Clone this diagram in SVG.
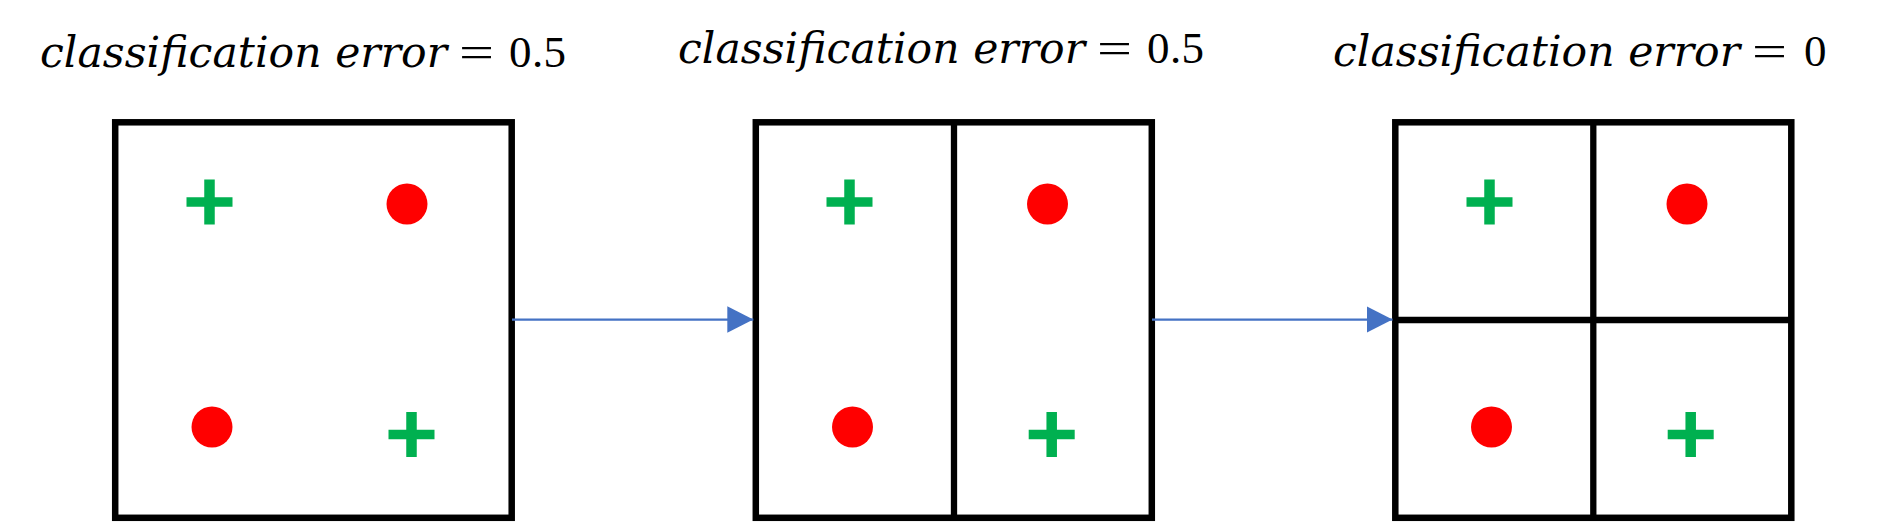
<svg xmlns="http://www.w3.org/2000/svg" xmlns:xlink="http://www.w3.org/1999/xlink" width="1892" height="522" viewBox="0 0 1892 522">
<style>
.box{fill:none;stroke:#000;stroke-width:6.5}
.div{stroke:#000;stroke-width:6.3}
.dot{fill:#FF0000}
.plus{fill:#00B050}
.it{font-family:"DejaVu Serif",serif;font-style:italic;font-size:42.5px;fill:#000}
.up{font-family:"Liberation Serif",serif;font-size:45px;fill:#000}
.conn{stroke:#4472C4;stroke-width:2.25;fill:none}
</style>
<defs>
<marker id="ah" markerUnits="userSpaceOnUse" markerWidth="27" markerHeight="28" refX="26" refY="13.5" orient="auto" viewBox="0 0 27 28">
<path d="M0,0.2 L26,13.5 L0,26.8 Z" fill="#4472C4"/>
</marker>
<g id="pl">
<rect x="-5.25" y="-22.5" width="10.5" height="45"/>
<rect x="-23" y="-4.75" width="46" height="9.5"/>
</g>
</defs>
<rect width="1892" height="522" fill="#fff"/>
<g id="title1">
<text class="it" x="40" y="66.5" textLength="407" lengthAdjust="spacing">classification error</text>
<text class="up" x="459" y="66.5" textLength="35" lengthAdjust="spacingAndGlyphs">=</text>
<text class="up" x="509" y="66.5" textLength="57" lengthAdjust="spacing">0.5</text>
</g>
<g id="title2">
<text class="it" x="678" y="63" textLength="407" lengthAdjust="spacing">classification error</text>
<text class="up" x="1097" y="63" textLength="35" lengthAdjust="spacingAndGlyphs">=</text>
<text class="up" x="1147" y="63" textLength="57" lengthAdjust="spacing">0.5</text>
</g>
<g id="title3">
<text class="it" x="1333" y="66" textLength="407" lengthAdjust="spacing">classification error</text>
<text class="up" x="1752" y="66" textLength="35" lengthAdjust="spacingAndGlyphs">=</text>
<text class="up" x="1804" y="66">0</text>
</g>
<g id="box1">
<rect class="box" x="115.2" y="122.3" width="396.5" height="395.5"/>
<use xlink:href="#pl" class="plus" x="209.5" y="202"/>
<circle class="dot" cx="407" cy="204" r="20.5"/>
<circle class="dot" cx="212" cy="427" r="20.5"/>
<use xlink:href="#pl" class="plus" x="411.5" y="434.5"/>
</g>
<g id="box2">
<rect class="box" x="755.8" y="122.3" width="396" height="395.5"/>
<line class="div" x1="954" y1="122.3" x2="954" y2="517.8"/>
<use xlink:href="#pl" class="plus" x="849.5" y="202"/>
<circle class="dot" cx="1047.5" cy="204" r="20.5"/>
<circle class="dot" cx="852.5" cy="427" r="20.5"/>
<use xlink:href="#pl" class="plus" x="1051.7" y="434.5"/>
</g>
<g id="box3">
<rect class="box" x="1395.3" y="122.3" width="396" height="395.5"/>
<line class="div" x1="1593.3" y1="122.3" x2="1593.3" y2="517.8"/>
<line class="div" x1="1395.3" y1="320" x2="1791.3" y2="320"/>
<use xlink:href="#pl" class="plus" x="1489.5" y="202"/>
<circle class="dot" cx="1687" cy="204" r="20.5"/>
<circle class="dot" cx="1491.5" cy="427" r="20.5"/>
<use xlink:href="#pl" class="plus" x="1690.7" y="434.5"/>
</g>
<g id="connectors">
<line class="conn" x1="512" y1="319.5" x2="753.3" y2="319.5" marker-end="url(#ah)"/>
<line class="conn" x1="1152" y1="319.5" x2="1392.5" y2="319.5" marker-end="url(#ah)"/>
</g>
</svg>
